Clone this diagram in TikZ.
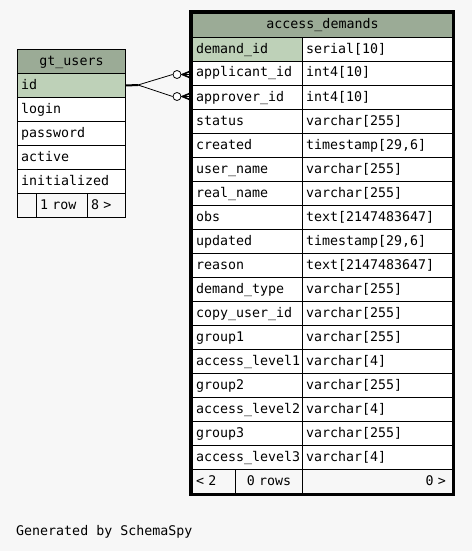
\documentclass[tikz,border=0pt]{standalone}
\usepackage{fontspec}
\setmonofont{DejaVu Sans Mono}
\definecolor{bgc}{HTML}{F7F7F7}
\definecolor{hdr}{HTML}{9BAB96}
\definecolor{keyc}{HTML}{BED1B8}
\tikzset{
  cell/.style={draw=black, line width=1pt, anchor=north west, minimum height=24pt,
    inner xsep=3.5pt, inner ysep=0pt, text height=9.5pt, text depth=2.5pt,
    font=\ttfamily\fontsize{13.3}{13.3}\selectfont, fill=white},
  lcell/.style={cell, align=left},
  ccell/.style={cell, align=center},
  rcell/.style={cell, align=right},
  conn/.style={line width=0.8pt, black},
  ring/.style={circle, draw=black, line width=0.8pt, fill=white, minimum size=8pt, inner sep=0pt},
}
% #1 name, #2 x, #3 y, #4 width, #5 text width, #6 fill, #7 text, #8 style
\newcommand\mycell[8]{\node[#8, fill=#6, minimum width=#4pt, text width=#5pt] (#1) at (#2pt,-#3pt) {#7};}
\begin{document}
\begin{tikzpicture}[x=1pt,y=1pt]
\useasboundingbox (0,0) rectangle (472,-551);
\fill[bgc] (0,0) rectangle (472,-551);

% gt_users
\mycell{gth}{17}{49}{108}{101}{hdr}{gt\_users}{ccell}
\mycell{gid}{17}{73}{108}{101}{keyc}{id}{lcell}
\mycell{glogin}{17}{97}{108}{101}{white}{login}{lcell}
\mycell{gpw}{17}{121}{108}{101}{white}{password}{lcell}
\mycell{gact}{17}{145}{108}{101}{white}{active}{lcell}
\mycell{ginit}{17}{169}{108}{101}{white}{initialized}{lcell}
\mycell{gf1}{17}{193}{19}{12}{bgc}{}{lcell}
\mycell{gf2}{36}{193}{51}{44}{bgc}{1 row}{lcell}
\mycell{gf3}{87}{193}{38}{31}{bgc}{8 >}{lcell}

% access_demands
\draw[line width=3pt] (190.5,-11.5) rectangle (453.5,-494.5);
\mycell{ah}{192}{13}{260}{253}{hdr}{access\_demands}{ccell}
\mycell{a1n}{192}{37}{110}{103}{keyc}{demand\_id}{lcell}
\mycell{a1t}{302}{37}{150}{143}{white}{serial[10]}{lcell}
\mycell{a2n}{192}{61}{110}{103}{white}{applicant\_id}{lcell}
\mycell{a2t}{302}{61}{150}{143}{white}{int4[10]}{lcell}
\mycell{a3n}{192}{85}{110}{103}{white}{approver\_id}{lcell}
\mycell{a3t}{302}{85}{150}{143}{white}{int4[10]}{lcell}
\mycell{a4n}{192}{109}{110}{103}{white}{status}{lcell}
\mycell{a4t}{302}{109}{150}{143}{white}{varchar[255]}{lcell}
\mycell{a5n}{192}{133}{110}{103}{white}{created}{lcell}
\mycell{a5t}{302}{133}{150}{143}{white}{timestamp[29,6]}{lcell}
\mycell{a6n}{192}{157}{110}{103}{white}{user\_name}{lcell}
\mycell{a6t}{302}{157}{150}{143}{white}{varchar[255]}{lcell}
\mycell{a7n}{192}{181}{110}{103}{white}{real\_name}{lcell}
\mycell{a7t}{302}{181}{150}{143}{white}{varchar[255]}{lcell}
\mycell{a8n}{192}{205}{110}{103}{white}{obs}{lcell}
\mycell{a8t}{302}{205}{150}{143}{white}{text[2147483647]}{lcell}
\mycell{a9n}{192}{229}{110}{103}{white}{updated}{lcell}
\mycell{a9t}{302}{229}{150}{143}{white}{timestamp[29,6]}{lcell}
\mycell{a10n}{192}{253}{110}{103}{white}{reason}{lcell}
\mycell{a10t}{302}{253}{150}{143}{white}{text[2147483647]}{lcell}
\mycell{a11n}{192}{277}{110}{103}{white}{demand\_type}{lcell}
\mycell{a11t}{302}{277}{150}{143}{white}{varchar[255]}{lcell}
\mycell{a12n}{192}{301}{110}{103}{white}{copy\_user\_id}{lcell}
\mycell{a12t}{302}{301}{150}{143}{white}{varchar[255]}{lcell}
\mycell{a13n}{192}{325}{110}{103}{white}{group1}{lcell}
\mycell{a13t}{302}{325}{150}{143}{white}{varchar[255]}{lcell}
\mycell{a14n}{192}{349}{110}{103}{white}{access\_level1}{lcell}
\mycell{a14t}{302}{349}{150}{143}{white}{varchar[4]}{lcell}
\mycell{a15n}{192}{373}{110}{103}{white}{group2}{lcell}
\mycell{a15t}{302}{373}{150}{143}{white}{varchar[255]}{lcell}
\mycell{a16n}{192}{397}{110}{103}{white}{access\_level2}{lcell}
\mycell{a16t}{302}{397}{150}{143}{white}{varchar[4]}{lcell}
\mycell{a17n}{192}{421}{110}{103}{white}{group3}{lcell}
\mycell{a17t}{302}{421}{150}{143}{white}{varchar[255]}{lcell}
\mycell{a18n}{192}{445}{110}{103}{white}{access\_level3}{lcell}
\mycell{a18t}{302}{445}{150}{143}{white}{varchar[4]}{lcell}
\mycell{af1}{192}{469}{43}{36}{bgc}{< 2}{lcell}
\mycell{af2}{235}{469}{67}{60}{bgc}{0 rows}{ccell}
\node[rcell, fill=bgc, minimum width=150pt, text width=137pt, inner xsep=6.5pt] (af3) at (302pt,-469pt) {0 >};

% connectors
\coordinate (split) at (138,-85);
\node[ring] (r1) at (177,-74.5) {};
\node[ring] (r2) at (177,-96.5) {};
\draw[line width=2pt] (gid.east) -- (split);
\draw[conn] (split) -- (r1.west);
\draw[conn] (split) -- (r2.west);
\foreach \r/\t in {r1/a2n, r2/a3n}{
  \coordinate (tip) at (\t.west |- \r.east);
  \draw[line width=1.8pt] (\r.east) -- (tip);
  \draw[line width=1.6pt] ([xshift=1pt]\r.east) -- ([yshift=4pt]tip);
  \draw[line width=1.6pt] ([xshift=1pt]\r.east) -- ([yshift=-4pt]tip);
}

\node[anchor=west, inner sep=0pt, font=\ttfamily\fontsize{13.3}{13.3}\selectfont] (gen) at (16,-532) {Generated by SchemaSpy};
\end{tikzpicture}
\end{document}
